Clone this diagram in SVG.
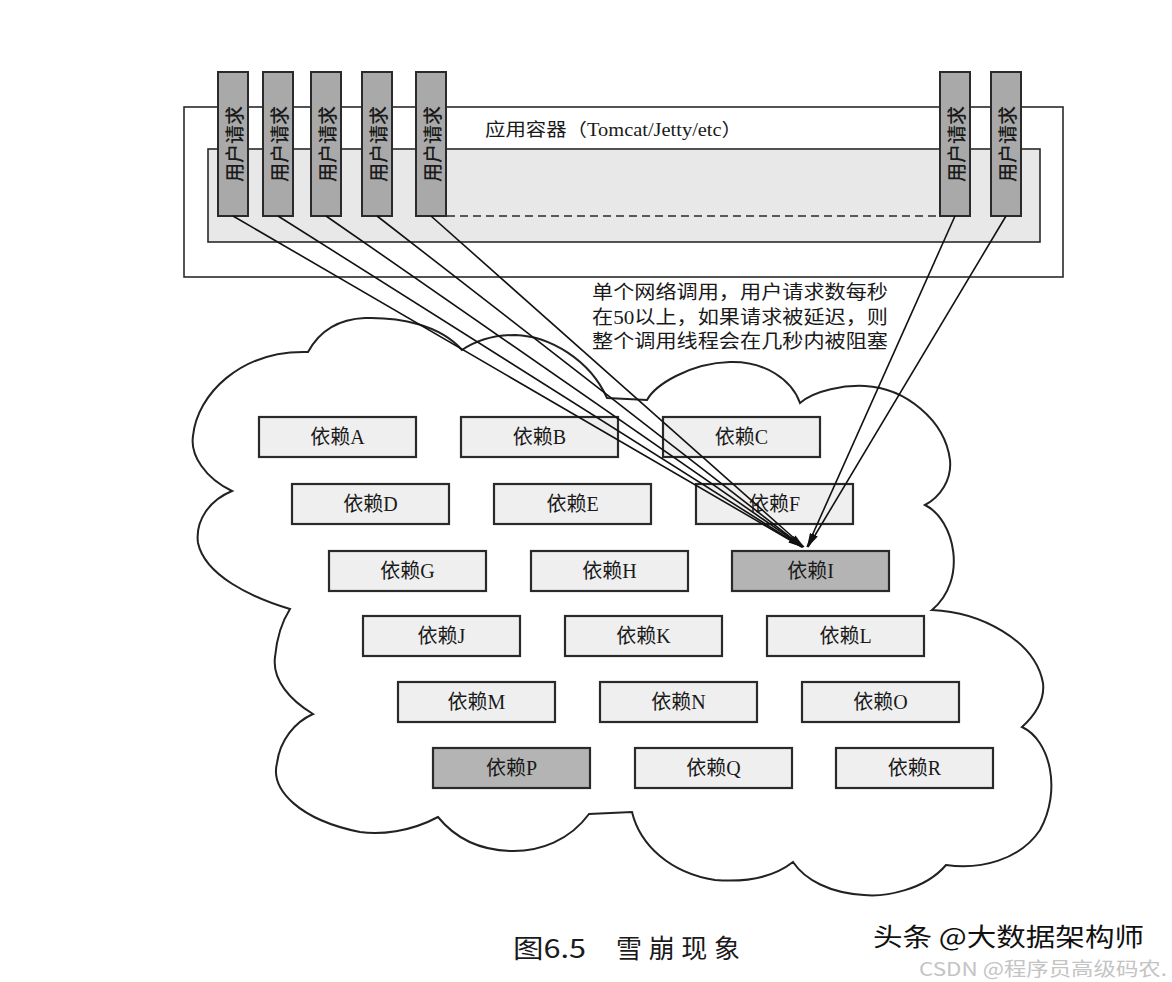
<svg xmlns="http://www.w3.org/2000/svg" width="1172" height="982" viewBox="0 0 1172 982">
<defs>
<style>
.frame{fill:#ffffff;stroke:#2a2a2a;stroke-width:1.6}
.inner{fill:#e8e8e8;stroke:#2a2a2a;stroke-width:1.6}
.bar{fill:#a9a9a9;stroke:#2a2a2a;stroke-width:2}
.barTxt{font-family:"Noto Sans CJK SC",sans-serif;font-size:19px;font-weight:500;fill:#1a1a1a;text-anchor:middle;dominant-baseline:central}
.box{fill:#efefef;stroke:#2a2a2a;stroke-width:2.2}
.hot{fill:#b4b4b4}
.lbl{font-family:"Liberation Serif","Noto Sans CJK SC",serif;font-size:20px;fill:#1a1a1a;text-anchor:middle;dominant-baseline:central}
.note{font-family:"Liberation Serif","Noto Sans CJK SC",serif;font-size:19px;fill:#1a1a1a}
.cloud{fill:none;stroke:#222;stroke-width:2}
.conn{stroke:#111;stroke-width:1.6;fill:none;marker-end:url(#ah)}
.dash{stroke:#2a2a2a;stroke-width:1.6;stroke-dasharray:8 5;fill:none}
</style>
<marker id="ah" markerUnits="userSpaceOnUse" markerWidth="16" markerHeight="8" refX="14" refY="4" orient="auto">
<path d="M0,1 L14,4 L0,7 z" fill="#111"/>
</marker>
</defs>
<rect width="1172" height="982" fill="#ffffff"/>

<g id="container">
<rect class="frame" x="184" y="107" width="879" height="170"/>
<rect class="inner" x="208" y="149" width="832" height="93"/>
<line class="dash" x1="447" y1="216" x2="940" y2="216"/>
<text x="485" y="136" textLength="257" lengthAdjust="spacingAndGlyphs" style="font-family:'Liberation Serif','Noto Sans CJK SC',serif;font-size:18px;fill:#1a1a1a">应用容器（Tomcat/Jetty/etc）</text>
</g>

<g id="req1"><rect class="bar" x="218" y="72" width="30" height="144"/><text class="barTxt" transform="rotate(-90 233 144)" x="233" y="144">用户请求</text></g>
<g id="req2"><rect class="bar" x="263" y="72" width="30" height="144"/><text class="barTxt" transform="rotate(-90 278 144)" x="278" y="144">用户请求</text></g>
<g id="req3"><rect class="bar" x="311" y="72" width="30" height="144"/><text class="barTxt" transform="rotate(-90 326 144)" x="326" y="144">用户请求</text></g>
<g id="req4"><rect class="bar" x="362" y="72" width="30" height="144"/><text class="barTxt" transform="rotate(-90 377 144)" x="377" y="144">用户请求</text></g>
<g id="req5"><rect class="bar" x="416" y="72" width="30" height="144"/><text class="barTxt" transform="rotate(-90 431 144)" x="431" y="144">用户请求</text></g>
<g id="req6"><rect class="bar" x="940" y="72" width="30" height="144"/><text class="barTxt" transform="rotate(-90 955 144)" x="955" y="144">用户请求</text></g>
<g id="req7"><rect class="bar" x="991" y="72" width="30" height="144"/><text class="barTxt" transform="rotate(-90 1006 144)" x="1006" y="144">用户请求</text></g>

<g id="cloud">
<path class="cloud" d="M308,352
C320,330 340,319 365,318 C400,317 440,325 462,350
C480,338 500,335 515,335 C550,336 590,360 607,398
L647,400
C655,385 690,363 730,362 C765,361 792,380 800,403
C815,390 845,385 865,386 C905,388 945,420 950,460 C952,480 940,497 925,505
C955,520 968,580 932,610
C980,612 1035,640 1043,683 C1045,700 1035,715 1022,727
C1050,740 1062,790 1040,830 C1020,860 980,870 946,865
C925,890 885,897 864,895 C830,893 805,880 793,862
C770,880 740,882 715,880 C670,873 640,845 632,812
L589,814
C570,840 540,852 510,851 C480,850 455,838 438,817
C410,832 380,835 360,832 C300,820 270,790 277,763 C280,740 295,722 313,714
C290,700 272,680 275,657 C277,635 283,620 290,609
C250,597 205,575 198,543 C195,520 210,500 232,491
C205,478 190,455 193,436 C197,395 240,350 308,352 Z"/>
</g>

<g id="depA"><rect class="box" x="259" y="417" width="157" height="40"/><text class="lbl" x="337.5" y="437">依赖A</text></g>
<g id="depB"><rect class="box" x="461" y="417" width="157" height="40"/><text class="lbl" x="539.5" y="437">依赖B</text></g>
<g id="depC"><rect class="box" x="663" y="417" width="157" height="40"/><text class="lbl" x="741.5" y="437">依赖C</text></g>
<g id="depD"><rect class="box" x="292" y="484" width="157" height="40"/><text class="lbl" x="370.5" y="504">依赖D</text></g>
<g id="depE"><rect class="box" x="494" y="484" width="157" height="40"/><text class="lbl" x="572.5" y="504">依赖E</text></g>
<g id="depF"><rect class="box" x="696" y="484" width="157" height="40"/><text class="lbl" x="774.5" y="504">依赖F</text></g>
<g id="depG"><rect class="box" x="329" y="551" width="157" height="40"/><text class="lbl" x="407.5" y="571">依赖G</text></g>
<g id="depH"><rect class="box" x="531" y="551" width="157" height="40"/><text class="lbl" x="609.5" y="571">依赖H</text></g>
<g id="depI"><rect class="box hot" x="732" y="551" width="157" height="40"/><text class="lbl" x="810.5" y="571">依赖I</text></g>
<g id="depJ"><rect class="box" x="363" y="616" width="157" height="40"/><text class="lbl" x="441.5" y="636">依赖J</text></g>
<g id="depK"><rect class="box" x="565" y="616" width="157" height="40"/><text class="lbl" x="643.5" y="636">依赖K</text></g>
<g id="depL"><rect class="box" x="767" y="616" width="157" height="40"/><text class="lbl" x="845.5" y="636">依赖L</text></g>
<g id="depM"><rect class="box" x="398" y="682" width="157" height="40"/><text class="lbl" x="476.5" y="702">依赖M</text></g>
<g id="depN"><rect class="box" x="600" y="682" width="157" height="40"/><text class="lbl" x="678.5" y="702">依赖N</text></g>
<g id="depO"><rect class="box" x="802" y="682" width="157" height="40"/><text class="lbl" x="880.5" y="702">依赖O</text></g>
<g id="depP"><rect class="box hot" x="433" y="748" width="157" height="40"/><text class="lbl" x="511.5" y="768">依赖P</text></g>
<g id="depQ"><rect class="box" x="635" y="748" width="157" height="40"/><text class="lbl" x="713.5" y="768">依赖Q</text></g>
<g id="depR"><rect class="box" x="836" y="748" width="157" height="40"/><text class="lbl" x="914.5" y="768">依赖R</text></g>

<g id="note">
<text class="note" x="592" y="299" textLength="296" lengthAdjust="spacingAndGlyphs">单个网络调用，用户请求数每秒</text>
<text class="note" x="592" y="324" textLength="296" lengthAdjust="spacingAndGlyphs">在50以上，如果请求被延迟，则</text>
<text class="note" x="592" y="348" textLength="296" lengthAdjust="spacingAndGlyphs">整个调用线程会在几秒内被阻塞</text>
</g>

<g id="connectors">
<line class="conn" x1="233" y1="216" x2="802" y2="547"/>
<line class="conn" x1="278" y1="216" x2="802" y2="547"/>
<line class="conn" x1="326" y1="216" x2="803" y2="547"/>
<line class="conn" x1="377" y1="216" x2="803" y2="547"/>
<line class="conn" x1="431" y1="216" x2="804" y2="547"/>
<line class="conn" x1="955" y1="216" x2="807" y2="547"/>
<line class="conn" x1="1006" y1="216" x2="808" y2="547"/>
</g>

<g id="caption">
<text style="font-family:'Noto Sans CJK SC',sans-serif;font-size:26px;fill:#1a1a1a" y="958"><tspan x="513" textLength="73" lengthAdjust="spacingAndGlyphs">图6.5</tspan><tspan x="616" textLength="124" lengthAdjust="spacing">雪崩现象</tspan></text>
<text x="873" y="946" textLength="271" lengthAdjust="spacingAndGlyphs" style="font-family:'Noto Sans CJK SC',sans-serif;font-size:25px;fill:#111;stroke:#ffffff;stroke-width:3;paint-order:stroke">头条 @大数据架构师</text>
<text x="919" y="976" textLength="248" lengthAdjust="spacingAndGlyphs" style="font-family:'Noto Sans CJK SC',sans-serif;font-size:19px;fill:#c4c4c4">CSDN @程序员高级码农.</text>
</g>
</svg>
